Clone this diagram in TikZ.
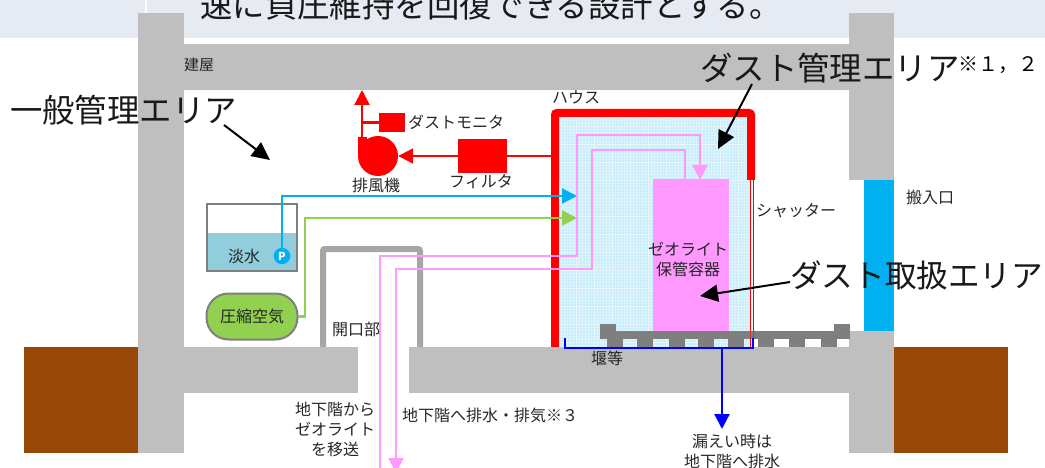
\documentclass[tikz,border=0pt]{standalone}
\usepackage{fontspec}
\setmainfont{Noto Sans CJK JP}
\usetikzlibrary{arrows.meta,positioning}
\definecolor{wallgray}{HTML}{BFBFBF}
\definecolor{soilbrown}{HTML}{974706}
\definecolor{bandblue}{HTML}{E6EAF3}
\definecolor{doorblue}{HTML}{00B0F0}
\definecolor{airgreen}{HTML}{92D050}
\definecolor{zeopink}{HTML}{FF99FF}
\definecolor{waterblue}{HTML}{92CDDC}
\definecolor{dustblue}{HTML}{C9EEFB}
\definecolor{rackgray}{HTML}{7F7F7F}
\definecolor{framegray}{HTML}{A6A6A6}
\tikzset{
	smalltext/.style={font=\fontsize{16}{20}\selectfont, inner sep=0pt, align=center, text=black!85},
	bigtext/.style={font=\fontsize{32.4}{36}\selectfont, inner sep=0pt, anchor=west, text=black!90},
	solidbox/.style={fill=#1, draw=none, inner sep=0pt},
	flowline/.style={draw=#1, line width=2.2pt, -{Triangle[length=15pt,width=15pt,fill=#1]}},
	pipeline/.style={draw=#1, line width=2.2pt},
	callout/.style={draw=black, line width=2pt, -{Triangle[length=18pt,width=17pt]}}
}
\begin{document}
\begin{tikzpicture}[x=1pt,y=-1pt]
	\useasboundingbox (0,0) rectangle (1045,468);
	% band of the page above
	\fill[bandblue] (0,0) rectangle (1045,38);
	\draw[white, line width=2.5pt] (146,0) -- (146,13);
	\node[bigtext] (topline) at (200,5) {速に負圧維持を回復できる設計とする。};
	% ground and building
	\fill[soilbrown] (24,347) rectangle (138,453);
	\fill[soilbrown] (894,347) rectangle (1008,453);
	\fill[wallgray] (138,13) rectangle (184,453);
	\fill[wallgray] (138,44) rectangle (894,90);
	\fill[wallgray] (849,13) rectangle (894,180);
	\fill[wallgray] (849,331) rectangle (894,453);
	\fill[wallgray] (184,347) rectangle (358,393);
	\fill[wallgray] (409,347) rectangle (849,393);
	\fill[doorblue] (864,180) rectangle (894,331);
	% house
	\fill[dustblue] (558,117) rectangle (750,347);
	\draw[white, line width=.25pt, opacity=.35, step=3pt] (558,117) grid (750,347);
	\draw[white, line width=.4pt, opacity=.4, step=18pt] (558,117) grid (750,347);
	\node[solidbox=zeopink, minimum width=76pt, minimum height=152pt] (container) at (691,255.5) {};
	\draw[red, line width=8pt, rounded corners=2pt] (555,180) -- (555,113) -- (751,113) -- (751,180);
	\fill[red] (551,180) rectangle (559,347);
	\draw[red, line width=1pt] (750,180) -- (750,347);
	\draw[red, line width=1pt] (753,180) -- (753,347);
	% rack
	\fill[rackgray] (600,324) rectangle (616,339);
	\fill[rackgray] (834,324) rectangle (850,339);
	\fill[rackgray] (616,331) rectangle (834,339);
	\foreach \footx in {607,637,669,698,728,758,789,821}
		\fill[rackgray] (\footx,339) rectangle (\footx+16,347);
	\draw[red, line width=1pt, opacity=.6] (750,331) -- (750,347);
	\draw[red, line width=1pt, opacity=.6] (753,331) -- (753,347);
	% opening
	\draw[framegray, line width=6pt, rounded corners=2pt] (323,347) -- (323,249) -- (420,249) -- (420,347);
	% exhaust line
	\node[solidbox=red, minimum width=49pt, minimum height=34pt] (filter) at (482.5,156) {};
	\node[solidbox=red, minimum width=26pt, minimum height=19pt] (monitor) at (392,122.5) {};
	\node[solidbox=red, circle, minimum size=40pt] (fan) at (378,156) {};
	\fill[red] (358,137) rectangle (367,156);
	\coordinate (houseout) at (551,156);
	\coordinate (fanout) at (362,138);
	\coordinate (stack) at (362,90);
	\coordinate (tee) at (362,122.5);
	\draw[pipeline=red] (houseout) -- (filter.east);
	\draw[flowline=red] (filter.west) -- (fan.east);
	\draw[flowline=red] (fanout) -- (stack);
	\draw[pipeline=red] (tee) -- (monitor.west);
	% water and air
	\fill[waterblue] (206,233) rectangle (298,271);
	\node[draw=rackgray, line width=2.5pt, minimum width=90pt, minimum height=67pt, inner sep=0pt] (tank) at (252,237.5) {};
	\node[solidbox=doorblue, circle, minimum size=16.5pt, text=white, font=\fontsize{11}{11}\selectfont\bfseries] (pump) at (282,256) {P};
	\node[smalltext] (water) at (244,256) {淡水};
	\node[fill=airgreen, draw=rackgray, line width=2pt, rounded corners=22pt, minimum width=91pt, minimum height=46pt, inner sep=0pt] (air) at (252,316.5) {};
	\node[smalltext] at (air) {圧縮空気};
	\coordinate (waterin) at (577,196);
	\coordinate (airin) at (577,218);
	\draw[flowline=doorblue] (pump.north) -- (282,196) -- (waterin);
	\draw[flowline=airgreen] (air.east) -- (305,316.5) -- (305,218) -- (airin);
	% zeolite lines
	\coordinate (zeoin) at (380,468);
	\coordinate (zeotop) at (700,180);
	\coordinate (ventout) at (396,473);
	\coordinate (ventin) at (685,180);
	\draw[flowline=zeopink] (zeoin) -- (380,256) -- (577,256) -- (577,135) -- (700,135) -- (zeotop);
	\draw[pipeline=zeopink] (ventin) -- (685,150) -- (592,150) -- (592,269) -- (396,269) -- (396,460);
	\draw[flowline=zeopink] (396,455) -- (ventout);
	% drain
	\coordinate (dikeleft) at (565,338);
	\coordinate (dikeright) at (753,338);
	\coordinate (dikedrain) at (722,348);
	\coordinate (drainend) at (722,429);
	\draw[blue, line width=2.5pt] (dikeleft) -- (565,348) -- (753,348) -- (dikeright);
	\draw[flowline=blue] (dikedrain) -- (drainend);
	% labels
	\node[smalltext, font=\fontsize{15}{18}\selectfont] (building) at (199,65) {建屋};
	\node[smalltext, anchor=west] (monitorlabel) at (408,122) {ダストモニタ};
	\node[smalltext] (filterlabel) at (481,182) {フィルタ};
	\node[smalltext] (fanlabel) at (376,185) {排風機};
	\node[smalltext] (houselabel) at (576,97) {ハウス};
	\node[smalltext, anchor=west] (shutter) at (756,211) {シャッター};
	\node[smalltext] (doorlabel) at (930,197) {搬入口};
	\node[smalltext] (zeolabel) at (688,259) {ゼオライト\\保管容器};
	\node[smalltext] (openlabel) at (356,329) {開口部};
	\node[smalltext] (dikelabel) at (607,358) {堰等};
	\node[smalltext] (fromlabel) at (335,429) {地下階から\\ゼオライト\\を移送};
	\node[smalltext, anchor=west] (tolabel) at (402,415) {地下階へ排水・排気※３};
	\node[smalltext] (leaklabel) at (732,451) {漏えい時は\\地下階へ排水};
	% areas
	\node[bigtext] (general) at (10,110) {一般管理エリア};
	\node[bigtext] (dustarea) at (700,68) {ダスト管理エリア};
	\node[inner sep=0pt, anchor=west, font=\fontsize{20}{24}\selectfont] (notes) at (958,65) {※１，２};
	\node[bigtext, font=\fontsize{31.6}{36}\selectfont] (handling) at (790,275) {ダスト取扱エリア};
	\coordinate (generalend) at (270,160);
	\coordinate (dustend) at (718,149);
	\coordinate (handlingend) at (700,296);
	\draw[callout] (224,125) -- (generalend);
	\draw[callout] (752,84) -- (dustend);
	\draw[callout] (790,282) -- (handlingend);
\end{tikzpicture}
\end{document}
